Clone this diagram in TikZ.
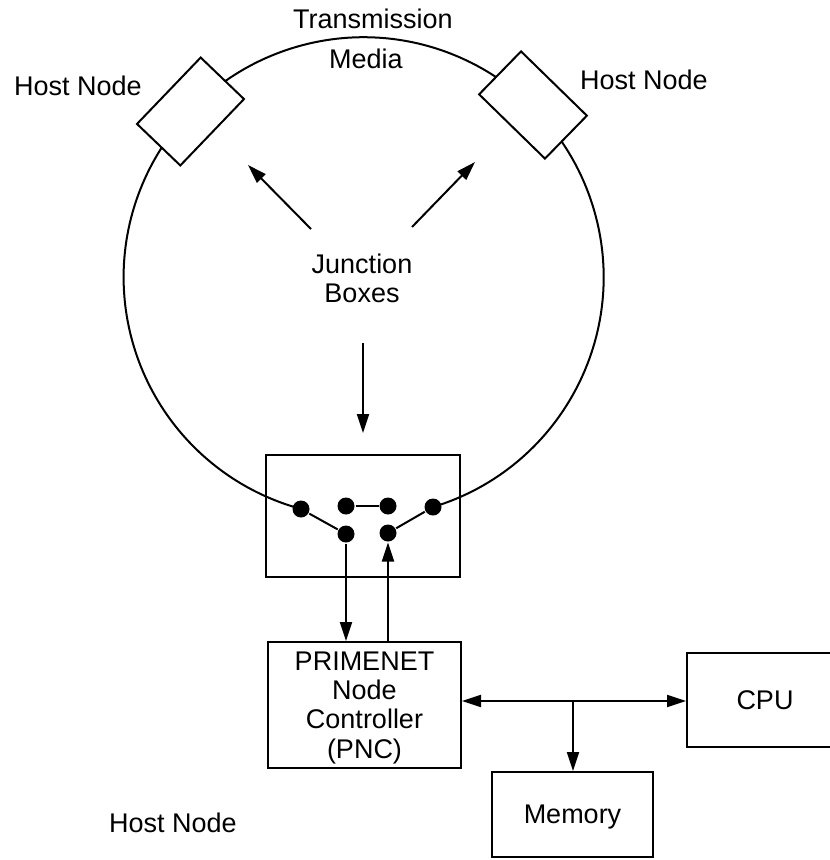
\documentclass[tikz,border=0pt]{standalone}
\usepackage{fontspec}
\setmainfont{Liberation Sans}
\usetikzlibrary{arrows.meta}
\begin{document}
\begin{tikzpicture}[x=1pt,y=1pt,line width=2pt,
  lbl/.style={font=\fontsize{27}{29.3}\selectfont, inner sep=0pt},
  box/.style={draw, line width=2pt, fill=white, inner sep=0pt, font=\fontsize{27}{29.3}\selectfont},
  dot/.style={circle, fill=black, draw=none, inner sep=0pt, minimum size=17pt},
  arr/.style={-{Triangle[length=19pt,width=12pt]}},
  arrr/.style={{Triangle[length=19pt,width=12pt]}-{Triangle[length=19pt,width=12pt]}}]
\clip (0,0) rectangle (830,-860);

% junction box
\node[box, fill=none, minimum width=194pt, minimum height=122pt] (jb) at (363,-516) {};
\node[dot] (d1) at (301,-509) {};
\node[dot] (d2) at (346,-506) {};
\node[dot] (d3) at (388,-506) {};
\node[dot] (d4) at (433,-507) {};
\node[dot] (d5) at (346,-534) {};
\node[dot] (d6) at (388,-533) {};
\draw (d1) -- (d5);
\draw (d2) -- (d3);
\draw (d4) -- (d6);

% ring (transmission media)
\draw (d4.center) arc[start angle=-73.2, end angle=254.7, radius=240pt];

% host node boxes on the ring
\node[box, minimum width=92pt, minimum height=60pt, rotate=46.2] (hl) at (190.5,-111.5) {};
\node[box, minimum width=92pt, minimum height=60pt, rotate=-44.3] (hr) at (533,-105) {};

% labels
\node[lbl, anchor=base] (tm1) at (373,-28.5) {Transmission};
\node[lbl, anchor=base] (tm2) at (366,-68) {Media};
\node[lbl, anchor=base] (hn1) at (78,-95) {Host Node};
\node[lbl, anchor=base] (hn2) at (644,-89) {Host Node};
\node[lbl, anchor=base] (hn3) at (173,-832) {Host Node};
\node[lbl, align=center, text depth=0pt] (jbl) at (362,-278) {Junction\\Boxes};

% arrows pointing to junction boxes
\coordinate (ja1) at (311,-229);
\coordinate (ja1t) at (248,-165);
\coordinate (ja2) at (412,-227);
\coordinate (ja2t) at (475,-162);
\coordinate (ja3) at (363,-343);
\coordinate (ja3t) at (363,-433);
\draw[arr] (ja1) -- (ja1t);
\draw[arr] (ja2) -- (ja2t);
\draw[arr] (ja3) -- (ja3t);

% PNC, CPU, memory
\node[box, minimum width=193pt, minimum height=126pt, align=center, text depth=0pt] (pnc) at (364.5,-705) {PRIMENET\\Node\\Controller\\(PNC)};
\node[box, minimum width=156pt, minimum height=94pt] (cpu) at (765,-700) {CPU};
\node[box, minimum width=161pt, minimum height=85pt, text depth=0pt] (mem) at (572.5,-814.5) {Memory};

\draw[arr] (d5) -- (d5 |- pnc.north);
\draw[arr] (d6 |- pnc.north) -- (d6);

\coordinate (tee) at (573,-701);
\draw[arrr] (pnc.east |- tee) -- (cpu.west |- tee);
\draw[arr] (tee) -- (tee |- mem.north);
\end{tikzpicture}
\end{document}
